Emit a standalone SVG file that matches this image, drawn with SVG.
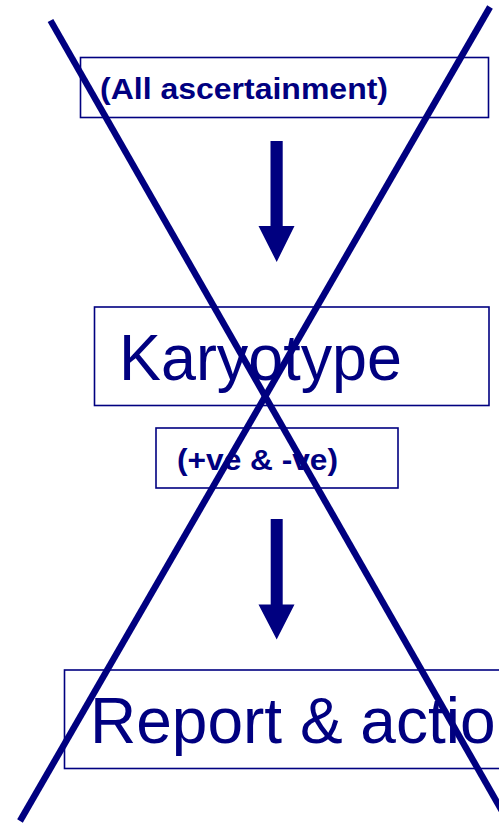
<svg xmlns="http://www.w3.org/2000/svg" width="499" height="825" viewBox="0 0 499 825">
<style>
.box{fill:#ffffff;stroke:#000080;stroke-width:1.6}
.big{font-family:"Liberation Sans",Arial,sans-serif;font-size:64px;fill:#000080}
.small{font-family:"Liberation Sans",Arial,sans-serif;font-size:30px;font-weight:bold;fill:#000080}
.arrow{fill:#000080}
.cross{stroke:#000080;stroke-width:6.5;fill:none}
</style>
<rect x="0" y="0" width="499" height="825" fill="#ffffff"/>
<g id="node-ascertainment">
<rect class="box" x="80.5" y="57.5" width="408" height="60"/>
<text class="small" x="100" y="99" textLength="288" lengthAdjust="spacingAndGlyphs">(All ascertainment)</text>
</g>
<g id="node-karyotype">
<rect class="box" x="94.5" y="307" width="394.5" height="98.5"/>
<text class="big" x="119" y="380" textLength="283" lengthAdjust="spacingAndGlyphs">Karyotype</text>
</g>
<g id="node-result">
<rect class="box" x="156" y="428" width="242" height="60"/>
<text class="small" x="177" y="470" textLength="161" lengthAdjust="spacingAndGlyphs">(+ve &amp; -ve)</text>
</g>
<g id="node-report">
<rect class="box" x="64.5" y="670" width="460" height="98.5"/>
<text class="big" x="90" y="743">Report &amp; action</text>
</g>
<g id="connectors">
<polygon class="arrow" points="270.5,141 282.7,141 282.7,226 294.5,226 276.7,262 258.5,226 270.5,226"/>
<polygon class="arrow" points="270.7,519 282.7,519 282.7,604.5 294.5,604.5 276.7,639.5 258.5,604.5 270.7,604.5"/>
</g>
<g id="cross">
<line class="cross" x1="50.5" y1="20.5" x2="502" y2="811"/>
<line class="cross" x1="490" y1="7" x2="20" y2="821"/>
</g>
</svg>
